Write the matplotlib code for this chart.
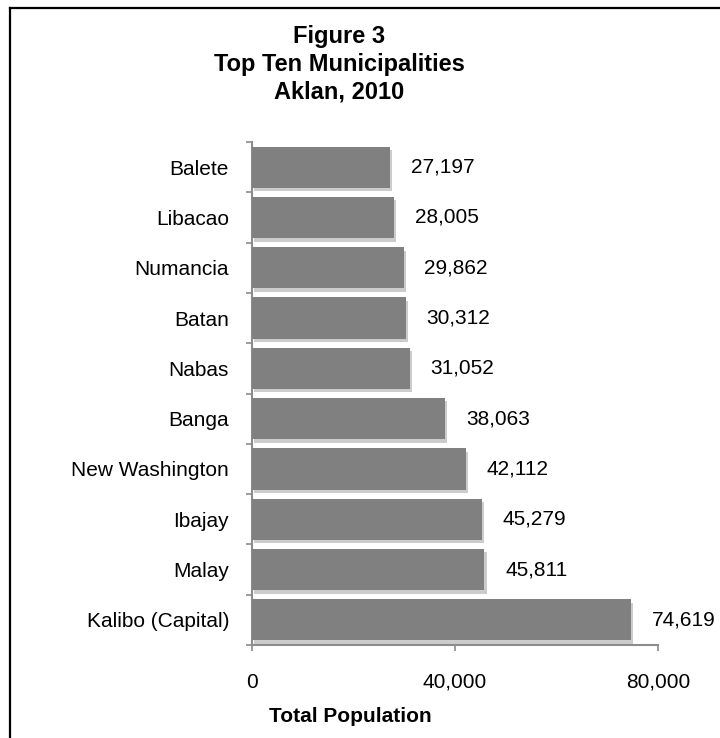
import matplotlib
matplotlib.use('Agg')
import matplotlib.pyplot as plt
import matplotlib.patheffects as pe
from matplotlib.lines import Line2D
from matplotlib.ticker import FuncFormatter

plt.rcParams['font.family'] = ['Liberation Sans', 'DejaVu Sans']

# data (top to bottom as shown)
municipalities = ['Balete', 'Libacao', 'Numancia', 'Batan', 'Nabas', 'Banga',
                  'New Washington', 'Ibajay', 'Malay', 'Kalibo (Capital)']
population = [27197, 28005, 29862, 30312, 31052, 38063, 42112, 45279, 45811, 74619]
x_ticks = [0, 40000, 80000]
title_lines = ['Figure 3', 'Top Ten Municipalities', 'Aklan, 2010']
x_label = 'Total Population'

fig = plt.figure(figsize=(7.2, 7.38), dpi=100)
ax = fig.add_axes([252 / 720, 93 / 738, 406 / 720, 503 / 738])

ypos = list(range(len(municipalities)))
shadow = [pe.SimplePatchShadow(offset=(1.5, -2.5), shadow_rgbFace='#9a9a9a', alpha=0.5), pe.Normal()]
bars = ax.barh(ypos, population, height=0.82, color='#808080', zorder=3)
for b in bars:
    b.set_path_effects(shadow)

for y, v in zip(ypos, population):
    ax.annotate(f'{v:,}', xy=(v, y), xytext=(15, 0), textcoords='offset points',
                ha='left', va='center', fontsize=15, color='black')

ax.set_xlim(0, 80000)
ax.set_ylim(len(municipalities) - 0.5, -0.5)
ax.set_yticks(ypos)
ax.set_yticklabels(municipalities, fontsize=15)
ax.set_yticks([i - 0.5 for i in range(len(municipalities) + 1)], minor=True)
ax.tick_params(axis='y', which='major', length=0, pad=16.5)
ax.tick_params(axis='y', which='minor', length=4.5, width=1.2, color='#8c8c8c')
ax.set_xticks(x_ticks)
ax.xaxis.set_major_formatter(FuncFormatter(lambda v, p: f'{int(v):,}'))
ax.tick_params(axis='x', length=4, width=1.2, color='#8c8c8c', labelsize=15, pad=16)

for s in ['top', 'right']:
    ax.spines[s].set_visible(False)
for s in ['left', 'bottom']:
    ax.spines[s].set_color('#8c8c8c')
    ax.spines[s].set_linewidth(1.5)

# title, one line at a time
for line, base in zip(title_lines, [43, 71, 99]):
    fig.text(339 / 720, 1 - base / 738, line, ha='center', va='baseline',
             fontsize=17, fontweight='bold')
fig.text(350 / 720, 1 - 717 / 738, x_label, ha='center', va='center',
         fontsize=15, fontweight='bold')

# frame around the chart (cut at right and bottom)
x0, y0 = 9.5 / 720, 1 - 7.5 / 738
fig.add_artist(Line2D([x0, x0], [0, y0], transform=fig.transFigure, color='black', lw=1.6))
fig.add_artist(Line2D([x0, 1], [y0, y0], transform=fig.transFigure, color='black', lw=1.6))

fig.savefig('out.png', dpi=100)
